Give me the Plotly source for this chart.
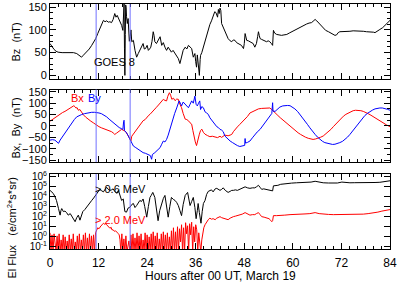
import plotly.graph_objects as go

# ---------------- data ----------------
bz_t = [0, 0.5, 1, 1.5, 2, 3, 4, 5, 5.8, 6.6,
        7.0, 7.4, 7.8, 8.1, 8.6, 9.1, 9.7, 10.3, 10.8, 11.3,
        11.8, 12.35, 12.8, 13.2, 13.6, 14.0, 14.4, 14.8, 15.2, 15.6,
        16.0, 16.3, 16.6, 17.1, 17.4, 17.7, 18.0, 18.2, 18.3, 18.4,
        18.5, 18.6, 18.7, 18.8, 18.9, 19.1, 19.3, 19.5, 19.6, 19.8,
        20.0, 20.2, 20.6, 21.0, 21.4, 21.8, 22.2, 22.6, 23.0, 23.3,
        23.6, 24.0, 24.3, 24.6, 24.9, 25.2, 25.5, 25.7, 25.9, 26.3,
        26.8, 27.2, 27.6, 28.0, 28.4, 28.8, 29.2, 29.6, 30.0, 30.4,
        30.9, 31.3, 31.7, 32.1, 32.5, 32.9, 33.4, 33.8, 34.2, 34.6,
        35.0, 35.4, 35.8, 36.0, 36.2, 36.4, 36.6, 36.8, 36.9, 37.1,
        37.2, 37.5, 37.9, 38.3, 38.7, 39.1, 39.5, 39.9, 40.3, 40.7,
        41.0, 41.4, 41.6, 41.8, 42.0, 42.2, 42.4, 42.7, 43.2, 43.6,
        44.0, 44.5, 44.9, 45.3, 45.7, 46.1, 46.5, 46.9, 47.3, 47.8,
        48.0, 48.2, 48.4, 48.6, 49.0, 49.4, 49.8, 50.2, 50.6, 51.0,
        51.3, 51.5, 51.7, 51.9, 52.3, 52.7, 53.1, 53.5, 53.9, 54.3,
        54.7, 55.0, 55.2, 55.5, 56.0, 56.6, 57.2, 57.8, 58.5, 59.1,
        59.7, 60.3, 60.9, 61.5, 62.2, 62.8, 63.4, 64.0, 64.6, 65.0,
        65.5, 65.9, 66.3, 66.9, 67.5, 68.1, 68.8, 69.4, 70.0, 70.4,
        70.8, 71.2, 71.6, 72.5, 73.3, 74.1, 74.9, 75.8, 76.6, 77.4,
        78.2, 79.0, 79.9, 80.3, 80.7, 81.5, 82.2, 82.8, 83.4, 84.0]
bz_v = [70, 63, 57, 53, 51, 50, 50, 49, 50, 48,
        45, 41, 40, 43, 47, 51, 58, 66, 73, 81,
        92, 103, 112, 121, 118, 120, 117, 118, 116, 123,
        136, 128, 132, 123, 116, 110, 99, 140, 158, 60,
        0, 90, 155, 150, 130, 114, 125, 95, 75, 85,
        100, 74, 77, 55, 40, 48, 55, 62, 70, 58,
        59, 66, 55, 58, 62, 75, 96, 88, 74, 70,
        78, 85, 66, 72, 62, 55, 62, 57, 51, 55,
        48, 42, 37, 26, 44, 55, 62, 58, 66, 63,
        59, 40, 48, 30, 18, 45, 30, 10, 0, 35,
        44, 50, 62, 75, 90, 100, 112, 120, 132, 140,
        138, 128, 145, 136, 148, 143, 114, 108, 99, 88,
        81, 76, 74, 78, 77, 72, 70, 68, 66, 59,
        70, 92, 85, 77, 76, 74, 72, 70, 62, 70,
        85, 96, 88, 81, 79, 77, 75, 74, 76, 74,
        70, 66, 99, 93, 90, 89, 88, 89, 90, 93,
        96, 99, 101, 104, 107, 110, 113, 115, 116, 119,
        123, 120, 116, 110, 103, 99, 96, 93, 90, 88,
        89, 94, 96, 96, 96, 97, 98, 98, 98, 97,
        96, 96, 95, 94, 97, 101, 105, 110, 114, 121]

bx_t = [0, 0.6, 1.2, 1.8, 2.5, 3.1, 3.7, 4.3, 4.9, 5.4,
        5.9, 6.2, 6.4, 6.7, 7.0, 7.4, 7.8, 8.2, 8.8, 9.5,
        10.1, 10.7, 11.1, 11.5, 12.1, 12.7, 13.4, 14.0, 14.6, 15.2,
        15.6, 16.0, 16.4, 16.9, 17.3, 17.7, 18.1, 18.5, 18.9, 19.3,
        19.6, 19.8, 20.0, 20.2, 20.6, 21.0, 21.4, 21.8, 22.2, 22.6,
        23.0, 23.5, 24.0, 24.4, 24.7, 25.2, 25.6, 25.9, 26.3, 26.8,
        27.2, 27.6, 28.0, 28.4, 28.8, 29.1, 29.5, 29.8, 30.1, 30.5,
        30.9, 31.3, 31.7, 32.1, 32.5, 32.9, 33.1, 33.4, 33.8, 34.2,
        34.6, 35.0, 35.3, 35.6, 35.9, 36.2, 36.5, 36.9, 37.2, 37.5,
        37.9, 38.3, 38.9, 39.5, 40.1, 40.8, 41.4, 42.0, 42.4, 43.2,
        43.7, 44.0, 44.5, 44.9, 45.3, 45.7, 46.3, 46.9, 47.5, 48.2,
        48.8, 49.4, 50.0, 50.6, 51.0, 51.5, 52.3, 53.1, 53.7, 54.3,
        54.8, 55.2, 55.7, 56.3, 56.9, 57.6, 58.2, 58.8, 59.4, 60.0,
        60.6, 61.3, 61.9, 62.5, 63.1, 63.8, 64.4, 65.0, 65.6, 66.3,
        66.9, 67.5, 68.1, 68.8, 69.4, 70.0, 70.6, 71.2, 71.8, 72.5,
        73.1, 73.7, 74.3, 74.9, 75.5, 76.2, 76.8, 77.4, 78.0, 78.6,
        79.3, 79.9, 80.5, 81.1, 81.7, 82.4, 83.2, 84.0]
bx_v = [21, 28, 36, 45, 54, 59, 64, 71, 79, 84,
        89, 84, 79, 80, 69, 72, 60, 50, 39, 28,
        21, 14, 8, 2, -3, -8, -12, -15, -20, -25,
        -30, -37, -32, -27, -20, -15, -18, -22, -30, -44,
        -52, -60, -65, -45, -35, -22, -14, -5, 7, 15,
        23, 28, 40, 47, 51, 62, 68, 73, 82, 92,
        102, 108, 117, 112, 110, 130, 146, 135, 117, 122,
        111, 118, 117, 95, 80, 55, 40, 30, 28, 23,
        14, 8, -20, -50, -70, -86, -60, -36, -20, -14,
        -28, -36, -42, -47, -45, -48, -51, -45, -50, -40,
        -44, -43, -40, -37, -25, -15, -4, 7, 17, 28,
        42, 57, 63, 69, 72, 75, 77, 79, 80, 79,
        72, 64, 55, 46, 36, 25, 16, 7, -3, -12,
        -21, -30, -37, -44, -49, -54, -57, -59, -57, -54,
        -49, -44, -36, -27, -15, -3, 9, 21, 32, 43,
        51, 57, 63, 67, 69, 69, 67, 64, 60, 54,
        47, 40, 32, 25, 18, 11, 4, -3]

by_t = [0, 0.6, 1.2, 1.6, 2.1, 2.5, 2.9, 3.5, 4.1, 4.7,
        5.4, 6.0, 6.6, 7.2, 7.8, 8.5, 9.1, 9.7, 10.3, 11.0,
        11.5, 12.1, 12.7, 13.4, 14.0, 14.6, 15.2, 15.8, 16.5, 17.1,
        17.7, 18.0, 18.2, 18.3, 18.4, 18.8, 19.3, 19.8, 20.2, 20.6,
        21.2, 21.7, 22.3, 23.0, 23.6, 24.3, 24.8, 25.1, 25.3, 25.9,
        26.5, 27.2, 27.6, 28.0, 28.4, 28.8, 29.2, 29.6, 30.0, 30.4,
        30.8, 31.3, 31.6, 31.9, 32.2, 32.5, 32.9, 33.4, 33.8, 34.2,
        34.6, 35.0, 35.4, 35.8, 36.1, 36.4, 36.7, 37.0, 37.2, 37.5,
        37.9, 38.3, 38.7, 39.1, 39.5, 40.0, 40.3, 40.8, 41.2, 41.6,
        42.0, 42.4, 42.8, 43.2, 43.8, 44.5, 45.1, 45.7, 46.3, 46.9,
        47.4, 47.8, 48.1, 48.2, 48.3, 48.8, 49.4, 50.0, 50.6, 51.2,
        51.9, 52.5, 53.1, 53.7, 54.3, 54.8, 55.0, 55.1, 55.6, 56.2,
        56.8, 57.5, 58.1, 58.7, 59.3, 59.9, 60.5, 61.2, 61.8, 62.4,
        63.0, 63.6, 64.2, 64.8, 65.5, 66.1, 66.7, 67.3, 67.9, 68.6,
        69.2, 69.8, 70.4, 71.0, 71.6, 72.3, 72.9, 73.5, 74.1, 74.7,
        75.3, 76.0, 76.6, 77.2, 77.8, 78.4, 79.0, 79.7, 80.3, 80.9,
        81.5, 82.1, 82.7, 83.4, 84.0]
by_v = [-62, -60, -62, -68, -76, -62, -51, -37, -22, -5,
        14, 28, 40, 46, 50, 54, 57, 59, 60, 60,
        60, 57, 54, 47, 40, 30, 21, 10, -1, -7,
        -12, -15, 20, 25, -20, -27, -42, -59, -75, -88,
        -95, -102, -110, -117, -120, -124, -130, -146, -125, -117,
        -105, -95, -80, -66, -70, -59, -40, -15, 10, 28,
        55, 79, 95, 110, 100, 88, 105, 95, 85, 80,
        95, 110, 100, 131, 95, 88, 100, 110, 72, 85,
        80, 62, 57, 51, 36, 25, 15, 8, -3, -7,
        -15, -18, -25, -44, -55, -66, -73, -80, -86, -90,
        -89, -88, -85, -55, -75, -72, -66, -52, -37, -26,
        -15, -1, 14, 29, 43, 55, 102, 65, 64, 74,
        83, 88, 90, 90, 89, 83, 75, 63, 50, 36,
        21, 7, -8, -23, -37, -49, -59, -67, -73, -77,
        -80, -81, -80, -77, -73, -67, -59, -49, -37, -23,
        -8, 7, 21, 34, 46, 55, 63, 70, 75, 78,
        79, 79, 77, 73, 69]

# log10 of electron flux > 0.6 MeV
f06_t = [0, 0.4, 0.8, 1.2, 1.6, 2.1, 2.3, 2.5, 2.7, 2.9,
         3.3, 3.7, 4.1, 4.5, 5.0, 5.4, 5.8, 6.2, 6.6, 7.0,
         7.4, 7.8, 8.1, 8.6, 9.1, 9.7, 10.3, 10.8, 11.3, 11.8,
         12.3, 12.8, 13.2, 13.6, 14.0, 14.4, 14.8, 15.2, 15.6, 16.0,
         16.5, 16.9, 17.3, 17.7, 18.1, 18.5, 18.9, 19.3, 19.8, 20.2,
         20.6, 21.0, 21.4, 21.8, 22.2, 22.6, 23.0, 23.4, 23.9, 24.3,
         24.7, 25.0, 25.4, 25.9, 26.3, 26.7, 27.1, 27.6, 28.0, 28.4,
         28.8, 29.2, 29.6, 30.0, 30.5, 30.9, 31.3, 31.7, 32.1, 32.5,
         32.9, 33.4, 34.0, 34.3, 34.6, 35.0, 35.4, 35.8, 36.1, 36.4,
         36.6, 36.9, 37.1, 37.3, 37.6, 37.9, 38.3, 38.7, 39.1, 39.5,
         39.9, 40.3, 40.8, 41.2, 41.6, 42.0, 42.4, 42.8, 43.3, 43.7,
         44.0, 44.5, 44.9, 45.3, 45.8, 46.3, 46.9, 47.5, 48.2, 48.8,
         49.4, 50.0, 50.6, 51.0, 51.5, 51.9, 52.3, 52.8, 53.4, 53.9,
         54.4, 54.8, 55.0, 55.2, 55.8, 56.3, 57.0, 57.8, 58.5, 59.7,
         60.9, 62.2, 63.4, 64.5, 65.5, 66.5, 67.5, 68.8, 70.0, 71.0,
         72.1, 73.0, 74.1, 75.3, 76.6, 77.8, 79.0, 80.3, 81.5, 82.8,
         84.0]
f06_v = [4.6, 4.45, 4.3, 4.0, 3.6, 2.8, 2.4, 2.15, 2.6, 2.8,
         2.5, 2.55, 2.4, 2.15, 2.3, 2.0, 1.8, 1.5, 1.9, 2.15,
         1.65, 2.1, 2.5, 2.7, 3.0, 3.3, 3.6, 3.85, 4.1, 4.4,
         4.7, 4.55, 4.45, 4.7, 4.9, 4.7, 4.6, 4.65, 4.75, 4.5,
         4.3, 4.6, 4.2, 3.6, 3.75, 2.5, 2.45, 2.85, 2.95, 3.2,
         3.3, 2.9, 3.1, 3.4, 3.6, 3.5, 3.75, 3.0, 1.95, 3.0,
         3.9, 4.1, 4.4, 3.9, 2.8, 1.6, 2.6, 3.4, 3.8, 4.1,
         3.2, 1.95, 3.0, 3.9, 3.7, 3.6, 3.4, 3.1, 2.6, 2.1,
         3.2, 4.1, 4.4, 3.6, 3.1, 3.5, 3.9, 2.9, 1.8, 2.6,
         3.3, 2.4, 1.45, 1.35, 2.5, 3.3, 3.6, 4.2, 4.5, 4.6,
         4.65, 4.45, 4.75, 4.8, 4.7, 4.6, 4.7, 4.85, 4.6, 4.45,
         4.4, 4.5, 4.6, 4.6, 4.65, 4.6, 4.7, 4.8, 4.95, 4.85,
         4.8, 4.85, 4.85, 4.95, 5.1, 4.9, 4.7, 4.75, 4.7, 4.7,
         4.65, 4.6, 4.55, 5.05, 5.05, 5.1, 5.2, 5.25, 5.3, 5.32,
         5.35, 5.35, 5.36, 5.42, 5.5, 5.4, 5.35, 5.33, 5.3, 5.33,
         5.42, 5.36, 5.35, 5.36, 5.35, 5.34, 5.35, 5.38, 5.4, 5.48,
         5.55]

# log10 of electron flux > 2.0 MeV (values below the axis floor are dropouts)
f20_t = [0, 0.25, 0.5, 0.75, 1.0, 1.25, 1.5, 1.75, 2.0, 2.25,
         2.5, 2.75, 3.0, 3.25, 3.5, 3.75, 4.0, 4.25, 4.5, 4.75,
         5.0, 5.25, 5.5, 5.75, 6.0, 6.25, 6.5, 6.75, 7.0, 7.25,
         7.5, 7.75, 8.0, 8.25, 8.5, 8.75, 9.0, 9.25, 9.5, 9.75,
         10.0, 10.25, 10.5, 10.75, 11.0, 11.25, 11.5, 11.8, 12.1, 12.3,
         12.6, 12.9, 13.2, 13.5, 13.8, 14.0, 14.3, 14.6, 14.8, 15.1,
         15.3, 15.6, 15.9, 16.2, 16.5, 16.8, 17.1, 17.3, 17.5, 17.75,
         18.0, 18.25, 18.5, 18.75, 19.0, 19.5, 19.75, 20.0, 20.25, 20.5,
         20.75, 21.0, 21.25, 21.5, 21.75, 22.0, 22.25, 22.5, 22.75, 23.0,
         23.25, 23.5, 23.75, 24.0, 24.25, 24.5, 24.75, 25.0, 25.25, 25.5,
         25.75, 26.0, 26.25, 26.5, 26.75, 27.0, 27.25, 27.5, 27.75, 28.0,
         28.25, 28.5, 28.75, 29.0, 29.25, 29.5, 29.75, 30.0, 30.25, 30.5,
         30.75, 31.0, 31.25, 31.5, 31.75, 32.0, 32.25, 32.5, 32.75, 33.0,
         33.25, 33.5, 33.75, 34.0, 34.25, 34.5, 34.75, 35.0, 35.25, 35.5,
         35.75, 36.0, 36.25, 36.5, 36.75, 37.0, 37.25, 37.5, 37.75, 38.0,
         38.3, 38.7, 39.1, 39.5, 39.9, 40.3, 40.8, 41.2, 41.6, 42.0,
         42.4, 42.8, 43.2, 43.6, 44.0, 44.5, 44.9, 45.3, 45.8, 46.3,
         46.9, 47.5, 48.2, 48.8, 49.4, 50.0, 50.6, 51.0, 51.5, 51.9,
         52.3, 52.9, 53.5, 54.1, 54.5, 54.8, 55.0, 55.2, 56.0, 56.8,
         58.0, 59.3, 60.5, 61.8, 63.0, 64.2, 65.5, 66.5, 67.5, 68.8,
         70.0, 71.2, 72.5, 73.7, 74.9, 76.2, 77.4, 78.6, 79.9, 81.0,
         82.0, 83.0, 84.0]
f20_v = [0.4, -1.5, 0.2, -1.5, 0.3, -0.6, -1.5, 0.1, -1.5, 0.3,
         -1.5, -0.3, -1.5, 0.2, -1.5, 0.0, -1.5, -0.4, -1.5, 0.2,
         -1.5, -0.2, -1.5, 0.3, -1.5, -0.5, -1.5, 0.1, -1.5, 0.3,
         -1.5, -0.3, -1.5, 0.2, -1.5, 0.4, -1.5, -0.1, -1.5, 0.3,
         -1.5, 0.1, -1.5, 0.2, -1.5, 0.4, 0.7, 0.9, 0.8, 1.0,
         1.1, 1.2, 1.35, 1.25, 1.3, 1.2, 1.05, 0.9, 0.85, 0.95,
         0.7, 0.7, 0.55, 0.6, 0.5, 0.35, 0.2, -0.3, -1.5, 0.3,
         -1.5, -0.2, -1.5, 0.1, -1.5, -0.4, -1.5, 0.2, -1.5, 0.3,
         -1.5, -0.1, -1.5, 0.4, -1.5, 0.1, -1.5, 0.3, -1.5, -0.3,
         -1.5, 0.4, -1.5, 0.2, -1.5, 0.0, -1.5, 0.3, -1.5, 0.5,
         -1.5, 0.1, -1.5, 0.4, -1.5, -0.2, -1.5, 0.3, -1.5, 0.5,
         -1.5, 0.2, -1.5, 0.4, -1.5, 0.0, -1.5, 0.6, -1.5, 0.9,
         -1.5, 0.5, -1.5, 1.0, -1.5, 0.8, -0.5, 1.2, -1.5, 0.9,
         -1.5, 1.4, 0.3, 1.1, -1.5, 1.3, 0.2, 1.45, -1.5, 1.0,
         -0.5, 1.2, 0.7, -1.5, 0.4, -1.5, -1.5, -0.3, 0.4, 0.9,
         1.2, 1.5, 1.7, 1.85, 1.75, 1.8, 1.7, 1.85, 1.9, 2.0,
         1.9, 1.85, 1.85, 1.75, 1.7, 1.85, 1.95, 2.0, 2.05, 2.1,
         2.2, 2.25, 2.4, 2.25, 2.15, 2.2, 2.2, 2.3, 2.4, 2.2,
         2.0, 1.95, 1.9, 1.8, 1.65, 1.5, 1.6, 2.1, 2.1, 2.1,
         2.15, 2.2, 2.2, 2.25, 2.27, 2.3, 2.4, 2.3, 2.25, 2.22,
         2.2, 2.2, 2.2, 2.2, 2.2, 2.22, 2.25, 2.3, 2.35, 2.45,
         2.55, 2.62, 2.7]

goes_marks = [11.4, 19.8]          # hours, blue vertical markers
x_tickvals = [0, 12, 24, 36, 48, 60, 72, 84]
bz_ticks = [0, 50, 100, 150]
bxy_ticks = [-150, -100, -50, 0, 50, 100, 150]
flux_exps = [-1, 0, 1, 2, 3, 4, 5, 6]

# ---------------- figure ----------------
FONT = "Liberation Sans"
fig = go.Figure()
fig.add_trace(go.Scatter(x=bz_t, y=bz_v, mode="lines",
                         line=dict(color="black", width=1), xaxis="x", yaxis="y"))
fig.add_trace(go.Scatter(x=bx_t, y=bx_v, mode="lines",
                         line=dict(color="#ff0000", width=1), xaxis="x2", yaxis="y2"))
fig.add_trace(go.Scatter(x=by_t, y=by_v, mode="lines",
                         line=dict(color="#0000ff", width=1), xaxis="x2", yaxis="y2"))
fig.add_trace(go.Scatter(x=f20_t, y=[10 ** v for v in f20_v], mode="lines",
                         line=dict(color="#ff0000", width=1), xaxis="x3", yaxis="y3"))
fig.add_trace(go.Scatter(x=f06_t, y=[10 ** v for v in f06_v], mode="lines",
                         line=dict(color="black", width=1), xaxis="x3", yaxis="y3"))

H_TOP, H_BOT = 4, 249
def py(p):
    return (H_BOT - p) / (H_BOT - H_TOP)

common_x = dict(range=[0, 84], showline=True, linecolor="black", linewidth=1,
                mirror="ticks", ticks="inside", ticklen=6, tickcolor="black",
                tickvals=x_tickvals, showgrid=False, zeroline=False,
                automargin=False,
                minor=dict(dtick=2, ticks="inside", ticklen=3, tickcolor="black"),
                tickfont=dict(family=FONT, size=12, color="black"))
common_y = dict(showline=True, linecolor="black", linewidth=1, mirror="ticks",
                ticks="inside", ticklen=6, tickcolor="black", showgrid=False,
                zeroline=False, automargin=False,
                tickfont=dict(family=FONT, size=11, color="black"))

fig.update_layout(
    width=398, height=289,
    margin=dict(l=50, r=8, t=H_TOP, b=289 - H_BOT, autoexpand=False),
    paper_bgcolor="white", plot_bgcolor="white", showlegend=False,
    xaxis=dict(common_x, domain=[0, 1], anchor="y", showticklabels=False),
    xaxis2=dict(common_x, domain=[0, 1], anchor="y2", showticklabels=False),
    xaxis3=dict(common_x, domain=[0, 1], anchor="y3", showticklabels=True,
                ticklabelstandoff=3),
    yaxis=dict(common_y, domain=[py(79), 1], range=[-8, 157], tickvals=bz_ticks,
               minor=dict(dtick=12.5, ticks="inside", ticklen=3, tickcolor="black")),
    yaxis2=dict(common_y, domain=[py(162), py(89.5)], range=[-158, 160],
                tickvals=bxy_ticks,
                minor=dict(dtick=25, ticks="inside", ticklen=3, tickcolor="black")),
    yaxis3=dict(common_y, domain=[0, py(174)], type="log", range=[-1.2, 6.22],
                tickvals=[10 ** e for e in flux_exps],
                ticktext=["10<sup>%d</sup>" % e for e in flux_exps],
                tickfont=dict(family=FONT, size=10, color="black")),
)

for xa, ya in (("x", "y"), ("x2", "y2"), ("x3", "y3")):
    for g in goes_marks:
        fig.add_shape(type="line", xref=xa, yref=ya + " domain", x0=g, x1=g,
                      y0=0, y1=1, line=dict(color="#7070ff", width=1))

def ann(text, x, y, color="black", size=11, angle=0, xref="x", yref="y"):
    fig.add_annotation(text=text, x=x, y=y, xref=xref, yref=yref, showarrow=False,
                       textangle=angle, xanchor="center", yanchor="middle",
                       font=dict(family=FONT, size=size, color=color))

def px_x(p):
    return (p - 50) / 340

ann("Bz  (nT)", px_x(15.5), py(42), angle=-90, xref="paper", yref="paper")
ann("Bx,  By  (nT)", px_x(15.5), py(128), angle=-90, xref="paper", yref="paper")
ann("El Flux   (e/cm<sup>2</sup>*s*sr)", px_x(11.5), py(228), angle=-90,
    xref="paper", yref="paper")
ann("Hours after 00 UT, March 19", 0.5, py(276), size=12, xref="paper", yref="paper")
ann("GOES 8", px_x(114), py(62.5), xref="paper", yref="paper")
ann("Bx", px_x(77), py(98.5), color="#ff0000", xref="paper", yref="paper")
ann("By", px_x(94), py(98.5), color="#0000ff", xref="paper", yref="paper")
ann("> 0.6 MeV", px_x(120), py(189), xref="paper", yref="paper")
ann("> 2.0 MeV", px_x(120), py(220), color="#ff0000", xref="paper", yref="paper")

fig.write_html("out.html",
               config={"displayModeBar": False},
               post_script="document.body.style.margin='0';"
                           "document.body.style.overflow='hidden';")
